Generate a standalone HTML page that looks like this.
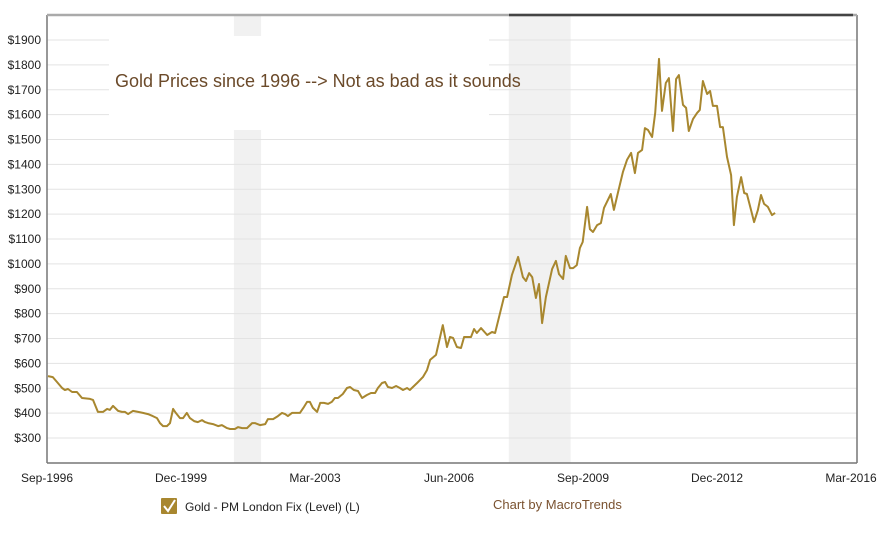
<!DOCTYPE html>
<html><head><meta charset="utf-8"><style>
body{margin:0;background:#fff;font-family:"Liberation Sans",sans-serif;}
svg text{font-family:"Liberation Sans",sans-serif;}
</style></head><body>
<svg id="chart" width="877" height="529" xmlns="http://www.w3.org/2000/svg">
<g id="bands"></g><g id="grid"></g>
<rect x="109" y="36" width="380" height="94" fill="#fff"/>
<text x="115" y="87" font-size="18" fill="#6b4a2a">Gold Prices since 1996 --&gt; Not as bad as it sounds</text>
<g id="axes"></g><g id="series"></g>
<g>
<rect x="161" y="498" width="16" height="16" rx="1" fill="#a8872f"/>
<path d="M164 506 L168 511 L175 500" stroke="#fff" stroke-width="2" fill="none"/>
<text x="185" y="511" font-size="12" fill="#222">Gold - PM London Fix (Level) (L)</text>
</g>
<text x="493" y="509" font-size="13" fill="#7a5230">Chart by MacroTrends</text>
</svg>
<script>
// months since Sep-1996
const months=[0.3,1.7,2.9,4.4,5.2,6.1,7.3,8.7,10.2,12.5,13.4,14.8,16.3,17.5,18.3,19.2,20.7,21.8,22.7,23.6,25.0,26.5,27.9,29.4,30.8,32.0,32.9,33.8,34.9,35.8,36.7,37.5,38.7,39.6,40.7,41.6,42.8,43.9,45.1,46.0,46.9,48.3,49.8,50.9,52.4,53.3,54.7,55.6,56.8,58.2,59.7,60.5,62.0,63.5,64.3,65.8,67.2,68.4,69.3,70.1,71.3,72.4,73.6,74.8,75.7,76.5,77.4,78.6,79.5,80.6,81.8,82.9,83.8,84.7,86.1,87.3,88.2,89.3,90.5,91.7,93.1,94.3,95.5,96.3,97.5,98.4,99.2,100.4,101.6,102.7,103.6,104.8,105.6,107.7,109.4,110.6,111.5,113.2,115.2,116.4,117.3,118.2,119.3,120.5,121.4,123.4,124.3,125.1,126.3,128.1,129.5,130.4,133.0,133.9,135.3,137.1,138.5,139.4,140.3,141.2,142.3,143.2,144.1,145.2,147.0,148.1,149.0,150.2,151.0,152.2,153.1,154.2,155.1,155.9,157.2,158.0,158.9,160.1,161.2,162.1,164.1,165.0,166.2,167.6,168.8,170.0,171.1,172.0,173.2,174.0,174.9,176.1,177.0,178.1,179.0,180.1,181.0,182.2,183.1,183.9,185.1,186.0,186.8,188.0,189.2,190.0,190.9,192.1,193.0,193.8,195.0,195.9,196.7,197.9,199.1,199.9,200.8,202.0,202.9,203.7,204.9,205.8,206.9,207.8,208.7,209.8,211.0,211.9];
const prices=[549,545,525,501,493,497,485,485,461,457,453,405,405,417,413,429,409,405,405,396,409,405,401,396,388,380,360,348,348,360,417,401,380,380,401,380,368,364,372,364,360,356,348,352,340,336,336,344,340,340,360,360,352,356,376,376,388,401,396,388,401,401,401,425,445,445,421,405,441,441,437,445,461,461,477,501,505,493,489,461,473,481,481,501,521,525,505,501,509,501,493,501,493,521,545,573,614,634,754,666,706,702,666,662,706,706,738,722,742,714,726,722,867,867,955,1028,947,931,963,947,863,919,762,867,979,1012,959,939,1032,983,983,995,1064,1088,1229,1140,1128,1156,1164,1225,1281,1217,1289,1369,1418,1446,1365,1446,1458,1546,1538,1510,1607,1824,1615,1727,1747,1534,1743,1759,1639,1627,1534,1582,1607,1619,1735,1683,1695,1635,1635,1550,1550,1430,1357,1156,1269,1349,1285,1281,1217,1168,1217,1277,1241,1229,1196,1205];
const yTicks=[300,400,500,600,700,800,900,1000,1100,1200,1300,1400,1500,1600,1700,1800,1900];
const xTickMonths=[0,39,78,117,156,195,234];
const xTickLabels=["Sep-1996","Dec-1999","Mar-2003","Jun-2006","Sep-2009","Dec-2012","Mar-2016"];
const recessionStarts=[54.4,134.4];
const recessionEnds=[62.3,152.4];

const NS="http://www.w3.org/2000/svg";
const X=m=>47+m*3.436, Y=p=>438-(p-300)*0.24875;
function mk(t,a,parent){const e=document.createElementNS(NS,t);for(const k in a)e.setAttribute(k,a[k]);document.getElementById(parent).appendChild(e);return e;}
recessionStarts.forEach((s,i)=>{const r=mk('rect',{x:X(s),y:15,width:X(recessionEnds[i])-X(s),height:448,fill:'#f1f1f1'},'bands');

});
yTicks.forEach(v=>{const l=mk('line',{x1:47,x2:857,y1:Y(v),y2:Y(v),stroke:'#e3e3e3','stroke-width':1},'grid');


const t=mk('text',{x:41,y:Y(v)+4,'text-anchor':'end','font-size':12,fill:'#222'},'axes');t.textContent='$'+v;

});
xTickMonths.forEach((m,i)=>{const t=mk('text',{x:X(m),y:482,'text-anchor':'middle','font-size':12,fill:'#222'},'axes');t.textContent=xTickLabels[i];

});
let a=mk('line',{x1:47,x2:47,y1:15,y2:463,stroke:'#777','stroke-width':1.5},'axes');


a=mk('line',{x1:47,x2:857,y1:463,y2:463,stroke:'#777','stroke-width':1.5},'axes');


a=mk('line',{x1:857,x2:857,y1:15,y2:463,stroke:'#777','stroke-width':1.5},'axes');


a=mk('line',{x1:47,x2:857,y1:15,y2:15,stroke:'#aaa','stroke-width':2.5},'axes');


a=mk('line',{x1:509,x2:853,y1:15,y2:15,stroke:'#444','stroke-width':2.5},'axes');


const d=months.map((m,i)=>(i?'L':'M')+X(m).toFixed(1)+' '+Y(prices[i]).toFixed(1)).join(' ');
const p=mk('path',{d:d,fill:'none',stroke:'#a8872f','stroke-width':2,'stroke-linejoin':'round'},'series');


</script>
</body></html>
